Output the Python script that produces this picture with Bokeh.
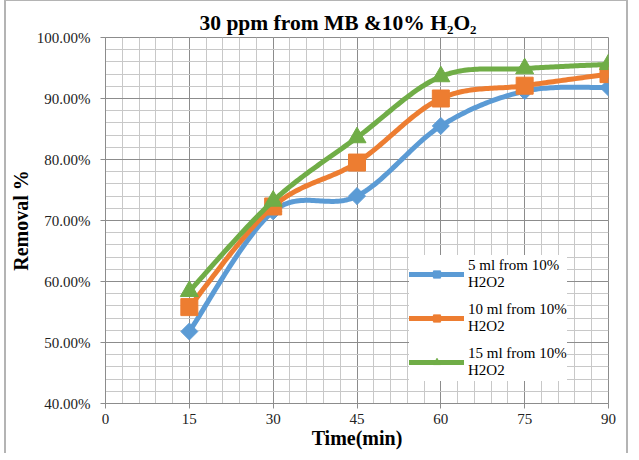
import numpy as np
from bokeh.plotting import figure
from bokeh.models import (Legend, LegendItem, PrintfTickFormatter, FixedTicker, Range1d)
from bokeh.embed import file_html
from bokeh.resources import INLINE

# ---- data ----
time_min = [15, 30, 45, 60, 75, 90]
ml5 = [51.8, 71.5, 74.0, 85.5, 91.2, 91.8]
ml10 = [55.8, 72.3, 79.5, 90.0, 92.1, 94.0]
ml15 = [58.4, 73.2, 83.6, 93.6, 94.9, 95.6]
series_labels = ["5 ml from 10%\nH2O2", "10 ml from 10%\nH2O2", "15 ml from 10%\nH2O2"]
x_ticks = [0, 15, 30, 45, 60, 75, 90]
x_minor = list(range(0, 91, 3))
y_ticks = [40, 50, 60, 70, 80, 90, 100]
y_minor = list(range(40, 101, 2))
title_text = "30 ppm from MB &10% H\u2082O\u2082"


def smooth(xs, ys, n=40):
    """Excel-style smoothed line: cubic Bezier through the points (Catmull-Rom tangents)."""
    P = np.column_stack([xs, ys]).astype(float)
    out = []
    for i in range(len(P) - 1):
        p0 = P[max(i - 1, 0)]
        p1 = P[i]
        p2 = P[i + 1]
        p3 = P[min(i + 2, len(P) - 1)]
        c1 = p1 + (p2 - p0) / 6.0
        c2 = p2 - (p3 - p1) / 6.0
        t = np.linspace(0, 1, n)[:, None]
        seg = (1 - t) ** 3 * p1 + 3 * (1 - t) ** 2 * t * c1 + 3 * (1 - t) * t ** 2 * c2 + t ** 3 * p2
        out.append(seg if i == 0 else seg[1:])
    pts = np.vstack(out)
    return pts[:, 0], pts[:, 1]


FONT = "Liberation Serif"

p = figure(width=620, height=452, output_backend="svg", toolbar_location=None,
           x_range=Range1d(0, 90), y_range=Range1d(40, 100),
           min_border_left=94, min_border_right=22, min_border_top=36, min_border_bottom=51)
p.background_fill_color = "white"
p.border_fill_color = "white"
p.outline_line_color = "#8c8c8c"
p.styles = {"margin-left": "4px", "border-left": "2px solid #b4b4b4",
            "border-right": "2px solid #b4b4b4", "border-top": "1px solid #b4b4b4",
            "box-sizing": "content-box"}

p.title.text = title_text
p.title.text_font = FONT
p.title.text_font_size = "21.5px"
p.title.text_font_style = "bold"
p.title.align = "left"
p.title.offset = 94
p.title.standoff = 6
p.title.text_color = "black"

# axes
p.xaxis.ticker = FixedTicker(ticks=x_ticks, minor_ticks=x_minor)
p.yaxis.ticker = FixedTicker(ticks=y_ticks, minor_ticks=y_minor)
p.yaxis.formatter = PrintfTickFormatter(format="%.2f%%")
for ax in (p.xaxis[0], p.yaxis[0]):
    ax.axis_line_color = "#8c8c8c"
    ax.major_tick_line_color = "#8c8c8c"
    ax.major_tick_out = 5
    ax.major_tick_in = 0
    ax.minor_tick_out = 0
    ax.minor_tick_in = 0
    ax.major_label_text_font = FONT
    ax.major_label_text_font_size = "15px"
    ax.major_label_text_color = "#222222"
    ax.axis_label_text_font = FONT
    ax.axis_label_text_font_size = "20px"
    ax.axis_label_text_font_style = "bold"
    ax.axis_label_text_color = "black"
p.xaxis.axis_label = "Time(min)"
p.yaxis.axis_label = "Removal %"
p.xaxis.major_label_standoff = 5
p.yaxis.major_label_standoff = 10
p.xaxis.axis_label_standoff = 0
p.yaxis.axis_label_standoff = 2

# grid
for g in (p.xgrid[0], p.ygrid[0]):
    g.grid_line_color = "#8c8c8c"
    g.grid_line_width = 1
    g.minor_grid_line_color = "#c8c8c8"
    g.minor_grid_line_width = 1

colors = ["#5B9BD5", "#ED7D31", "#70AD47"]
series = [ml5, ml10, ml15]
big_markers = [("square", 12, 45), ("square", 17, 0), ("triangle", 18, 0)]
small_markers = [("square", 5, 45), ("square", 7, 0), ("triangle", 8, 0)]

items = []
for ys, col, lab, bm, sm in zip(series, colors, series_labels, big_markers, small_markers):
    sx, sy = smooth(time_min, ys)
    lr = p.line(sx, sy, line_color=col, line_width=5, line_cap="round", line_join="round")
    small = p.scatter(time_min, ys, marker=sm[0], size=sm[1], angle=np.deg2rad(sm[2]),
                      fill_color=col, line_color=col)
    p.scatter(time_min, ys, marker=bm[0], size=bm[1], angle=np.deg2rad(bm[2]),
              fill_color=col, line_color=col)
    items.append(LegendItem(label=lab, renderers=[lr, small]))

legend = Legend(items=items, location=(304, 22), glyph_width=55, glyph_height=18,
                label_text_font=FONT, label_text_font_size="15px", label_text_color="black",
                background_fill_color="white", background_fill_alpha=1.0,
                border_line_color=None, spacing=6, padding=7, margin=0,
                label_standoff=4, label_height=38)
p.add_layout(legend)

open("out.html", "w").write(file_html(p, INLINE))
